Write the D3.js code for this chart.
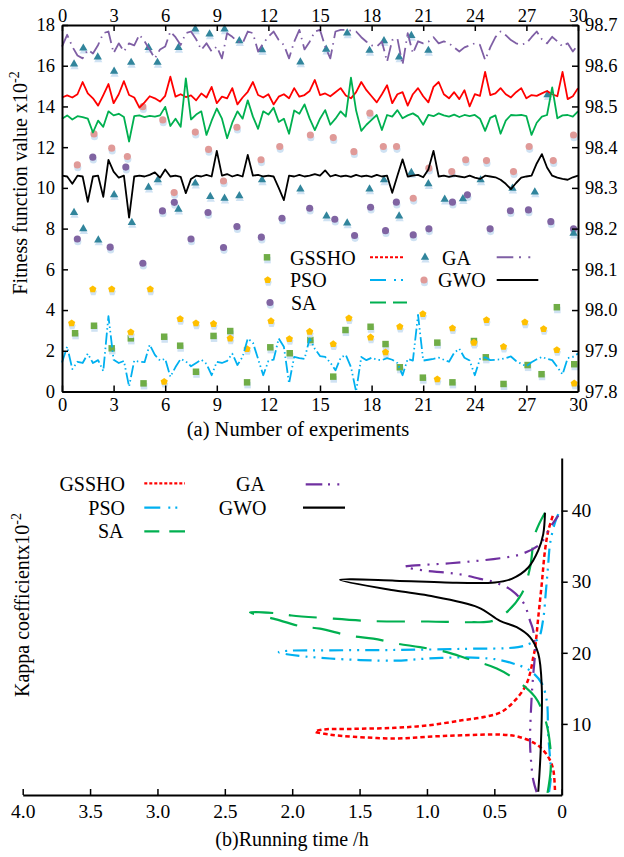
<!DOCTYPE html>
<html>
<head>
<meta charset="utf-8">
<script src="https://cdn.jsdelivr.net/npm/d3@7"></script>
<style>
  body { margin: 0; background: #fff; }
  svg { display: block; }
</style>
</head>
<body>
<svg id="chart" width="624" height="857"></svg>
<script>
// ---------- (a) ticks ----------
const expTicks = [0, 3, 6, 9, 12, 15, 18, 21, 24, 27, 30]
const fitTicks = [0, 2, 4, 6, 8, 10, 12, 14, 16, 18]
const kapTicksA = [97.8, 97.9, 98.0, 98.1, 98.2, 98.3, 98.4, 98.5, 98.6, 98.7]

// ---------- (a) fitness markers: [experiment, value x10^-2] ----------
const gsshoPts = [[0.76,2.86],[1.86,3.23],[2.89,2.12],[4.0,2.61],[4.74,0.40],[5.94,2.69],[6.87,2.25],[7.79,0.97],[8.81,2.73],[9.78,2.97],[10.76,0.45],[12.11,2.17],[13.24,1.88],[14.44,2.53],[15.77,0.73],[16.48,3.02],[17.94,3.18],[18.81,2.33],[19.64,1.19],[20.98,0.68],[21.82,2.40],[22.70,0.45],[23.95,2.48],[24.64,1.68],[25.67,0.37],[27.07,1.30],[27.88,0.85],[28.77,4.14],[29.78,1.34]]
const psoPts = [[0.56,3.35],[1.79,5.02],[2.89,5.02],[4.0,2.91],[5.13,5.02],[5.94,0.48],[6.87,3.56],[7.79,3.35],[8.81,3.32],[9.78,2.61],[10.76,2.09],[12.15,3.46],[13.22,2.58],[14.40,2.94],[15.77,2.33],[16.68,3.60],[17.94,2.66],[18.81,1.93],[19.64,3.18],[20.98,3.81],[21.82,0.60],[22.70,3.11],[23.95,2.40],[24.68,3.51],[25.67,2.20],[26.91,3.40],[28.0,3.07],[28.77,2.04],[29.78,0.40]]
const saPts = [[0.89,7.49],[1.79,11.51],[2.80,7.09],[3.71,11.02],[4.70,6.30],[5.84,8.87],[6.53,9.29],[7.50,7.49],[8.49,8.79],[9.39,7.07],[10.17,8.10],[11.59,7.58],[12.79,8.51],[14.40,9.00],[15.86,8.46],[17.01,7.66],[17.94,9.05],[18.81,7.90],[19.44,9.30],[20.42,7.69],[21.33,7.99],[22.70,9.30],[23.57,9.66],[24.89,7.99],[26.07,8.88],[27.12,8.92],[28.42,8.34],[29.74,7.99]]
const gaPts = [[0.70,16.08],[1.24,16.86],[2.08,16.42],[3.03,15.72],[4.02,16.16],[5.03,16.89],[5.55,16.16],[6.77,16.89],[7.75,17.80],[8.58,17.55],[9.45,17.80],[10.31,17.22],[11.63,16.78],[13.86,16.18],[15.36,16.81],[16.58,17.60],[17.88,16.75],[18.72,17.22],[19.60,16.42],[20.31,17.48],[21.30,16.75],
  [0.70,8.79],[1.24,7.99],[2.11,7.44],[3.03,9.66],[4.06,8.30],[5.03,10.03],[5.57,10.39],[6.77,8.95],[7.75,10.23],[8.62,9.57],[9.45,9.49],[10.31,9.61],[11.63,10.39],[13.86,9.94],[15.38,8.62],[16.58,8.27],[17.88,9.94],[18.72,10.39],[19.60,8.62],[20.31,10.75],[21.30,10.20],[22.25,9.44],[23.31,9.46],[24.34,10.39],[26.19,9.98],[27.49,9.79],[28.23,14.57],[29.74,7.77]]
const gwoPts = [[0.89,11.13],[1.86,12.65],[2.89,11.95],[3.80,11.54],[4.70,13.99],[5.86,13.34],[6.52,9.77],[7.75,12.74],[8.52,11.89],[9.39,10.34],[10.17,12.98],[11.57,11.38],[12.66,12.03],[14.44,12.60],[15.77,12.47],[16.97,11.78],[17.90,13.67],[18.68,12.03],[19.45,12.03],[20.42,9.49],[21.33,10.97],[22.66,10.80],[23.47,11.38],[24.68,11.34],[26.25,10.80],[27.16,12.03],[28.56,11.34],[29.74,12.60]]

// ---------- (a) kappa lines (right axis), one reading every 0.3 experiments ----------
const lineStep = 0.3
const gsshoLine = [98.522,98.527,98.522,98.530,98.560,98.532,98.520,98.502,98.528,98.555,98.508,98.530,98.562,98.528,98.522,98.497,98.510,98.525,98.520,98.512,98.526,98.573,98.524,98.530,98.523,98.527,98.515,98.532,98.522,98.548,98.508,98.524,98.520,98.545,98.505,98.522,98.536,98.560,98.528,98.522,98.530,98.505,98.524,98.530,98.520,98.545,98.524,98.528,98.538,98.565,98.528,98.532,98.525,98.535,98.545,98.527,98.520,98.535,98.560,98.540,98.525,98.510,98.530,98.552,98.508,98.530,98.535,98.502,98.530,98.545,98.525,98.510,98.548,98.560,98.530,98.520,98.535,98.518,98.540,98.500,98.530,98.526,98.585,98.528,98.532,98.545,98.530,98.522,98.535,98.545,98.520,98.528,98.526,98.532,98.538,98.530,98.525,98.585,98.518,98.525,98.545]
const psoLine = [97.871,97.910,97.855,97.873,97.870,97.893,97.870,97.877,97.850,97.985,97.878,97.870,97.875,97.812,97.876,97.873,97.872,97.915,97.890,97.876,97.880,97.836,97.860,97.880,97.874,97.862,97.870,97.878,97.868,97.840,97.873,97.870,97.875,97.893,97.865,97.885,97.930,97.920,97.880,97.840,97.875,97.878,97.930,97.910,97.820,97.885,97.882,97.880,97.930,97.905,97.887,97.885,97.871,97.852,97.883,97.890,97.860,97.800,97.885,97.877,97.883,97.878,97.877,97.882,97.878,97.870,97.840,97.880,97.876,97.988,97.876,97.878,97.880,97.883,97.878,97.873,97.895,97.905,97.883,97.876,97.840,97.880,97.884,97.877,97.878,97.879,97.882,97.886,97.875,97.868,97.862,97.872,97.879,97.885,97.880,97.877,97.860,97.842,97.882,97.885,97.893]
const saLine = [98.470,98.478,98.468,98.476,98.474,98.470,98.436,98.465,98.450,98.488,98.478,98.482,98.474,98.414,98.476,98.478,98.474,98.477,98.475,98.478,98.499,98.452,98.470,98.450,98.569,98.468,98.480,98.488,98.430,98.465,98.495,98.470,98.422,98.460,98.488,98.470,98.515,98.475,98.445,98.488,98.480,98.497,98.462,98.470,98.433,98.490,98.482,98.505,98.470,98.442,98.470,98.491,98.455,98.470,98.488,98.475,98.571,98.490,98.440,98.455,98.467,98.479,98.442,98.479,98.475,98.491,98.471,98.478,98.483,98.475,98.455,98.479,98.476,98.483,98.478,98.475,98.480,98.474,98.479,98.476,98.479,98.470,98.440,98.472,98.478,98.433,98.465,98.479,98.478,98.479,98.476,98.430,98.460,98.475,98.479,98.547,98.471,98.478,98.479,98.475,98.488]
const gaLine = [98.647,98.676,98.647,98.625,98.618,98.639,98.630,98.651,98.680,98.684,98.631,98.655,98.635,98.655,98.650,98.676,98.660,98.639,98.618,98.640,98.647,98.684,98.670,98.651,98.680,98.684,98.665,98.639,98.655,98.635,98.647,98.618,98.680,98.671,98.660,98.655,98.684,98.680,98.635,98.655,98.671,98.684,98.663,98.651,98.618,98.659,98.688,98.640,98.659,98.684,98.688,98.647,98.618,98.684,98.688,98.688,98.686,98.684,98.670,98.659,98.650,98.647,98.659,98.610,98.663,98.667,98.602,98.680,98.630,98.660,98.655,98.659,98.670,98.655,98.660,98.655,98.645,98.635,98.645,98.650,98.655,98.651,98.614,98.645,98.670,98.684,98.675,98.663,98.655,98.652,98.655,98.670,98.684,98.665,98.655,98.671,98.660,98.647,98.655,98.635,98.651]
const gwoLine = [98.330,98.328,98.310,98.330,98.328,98.266,98.328,98.330,98.278,98.369,98.340,98.325,98.330,98.227,98.328,98.330,98.328,98.332,98.338,98.325,98.345,98.328,98.330,98.327,98.287,98.322,98.330,98.328,98.332,98.328,98.391,98.330,98.334,98.328,98.332,98.328,98.381,98.330,98.332,98.328,98.330,98.328,98.300,98.270,98.330,98.328,98.332,98.328,98.330,98.334,98.330,98.343,98.328,98.332,98.328,98.330,98.327,98.332,98.328,98.330,98.327,98.332,98.328,98.330,98.288,98.330,98.370,98.328,98.330,98.332,98.326,98.345,98.391,98.328,98.330,98.327,98.330,98.328,98.326,98.330,98.325,98.322,98.330,98.328,98.326,98.320,98.310,98.297,98.312,98.325,98.328,98.330,98.360,98.383,98.350,98.330,98.325,98.322,98.320,98.326,98.330]

// ---------- (b) ticks ----------
const timeTicks = [4.0, 3.5, 3.0, 2.5, 2.0, 1.5, 1.0, 0.5, 0]
const kapTicksB = [10, 20, 30, 40]

// ---------- (b) curves: [running time h, kappa x10^-2] ----------
const gsshoCurve = [[0.05,0.7],[0.062,3.5],[0.087,4.9],[0.137,6.3],[0.198,7.25],[0.322,8.2],[0.445,8.5],[0.742,8.4],[0.99,8.2],[1.237,7.95],[1.547,8.2],[1.72,8.5],[1.83,8.9],[1.77,9.2],[1.547,9.3],[1.237,9.45],[0.99,9.8],[0.742,10.5],[0.569,11.0],[0.445,11.7],[0.347,13.3],[0.272,15.2],[0.235,17.1],[0.211,19.4],[0.198,20.6],[0.174,25.0],[0.148,29.7],[0.124,34.4],[0.099,37.2],[0.062,39.5]]
const psoCurve = [[0.094,0.4],[0.079,2.8],[0.087,5.3],[0.102,9.1],[0.104,11.7],[0.111,13.3],[0.148,15.7],[0.235,17.5],[0.361,18.5],[0.495,19.1],[0.742,19.35],[0.99,19.2],[1.237,18.9],[1.72,19.2],[2.04,19.8],[2.10,20.1],[2.02,20.3],[1.72,20.35],[1.237,20.4],[0.742,20.55],[0.324,20.8],[0.235,21.3],[0.174,22.0],[0.139,24.5],[0.118,28.5],[0.102,32.0],[0.085,35.5],[0.05,38.3],[0.025,39.5]]
const saCurve = [[0.105,0.3],[0.082,3.5],[0.085,6.8],[0.12,10.5],[0.198,13.8],[0.371,16.6],[0.482,17.8],[0.705,19.2],[0.853,20.1],[1.052,20.8],[1.224,21.3],[1.398,22.0],[1.571,22.4],[1.794,23.4],[1.93,23.7],[2.14,24.8],[2.313,25.7],[2.14,25.6],[2.004,25.25],[1.769,24.9],[1.398,24.45],[0.99,24.4],[0.668,24.3],[0.519,24.45],[0.421,25.5],[0.297,28.3],[0.235,32.0],[0.198,36.7],[0.124,39.7]]
const gaCurve = [[0.186,0.4],[0.211,2.1],[0.228,4.9],[0.235,7.7],[0.223,13.8],[0.211,17.0],[0.198,20.3],[0.211,23.1],[0.235,24.5],[0.28,26.9],[0.369,28.75],[0.495,29.9],[0.606,30.4],[0.742,31.0],[0.866,31.3],[1.014,31.55],[1.163,32.1],[1.113,32.25],[0.829,32.6],[0.458,33.3],[0.297,33.9],[0.161,35.3],[0.099,37.2],[0.062,38.3],[0.025,39.3]]
const gwoCurve = [[0.174,0.46],[0.156,6.3],[0.148,15.2],[0.174,19.9],[0.235,22.2],[0.334,23.6],[0.458,24.5],[0.621,26.4],[0.992,28.05],[1.237,28.75],[1.645,30.25],[1.237,30.15],[0.866,29.9],[0.495,29.9],[0.371,30.4],[0.248,32.0],[0.174,34.4],[0.137,36.7],[0.124,39.7]]

const svg = d3.select("#chart")

// custom pentagon marker for PSO
const symbolPentagon = {
  draw(ctx, size) {
    const r = Math.sqrt(size / 2.378)
    for (let i = 0; i < 5; i++) {
      const a = -Math.PI / 2 + i * 2 * Math.PI / 5
      if (i === 0) ctx.moveTo(r * Math.cos(a), r * Math.sin(a))
      else ctx.lineTo(r * Math.cos(a), r * Math.sin(a))
    }
    ctx.closePath()
  }
}

// series styles
const series = [
  { name: "GSSHO", pts: gsshoPts, line: gsshoLine, curve: gsshoCurve, sym: d3.symbolSquare, size: 42, mColor: "#70ad47",
    color: "#ff0000", topDash: null, dash: "4.5,3", width: 2.5, legDash: "3,2" },
  { name: "PSO", pts: psoPts, line: psoLine, curve: psoCurve, sym: symbolPentagon, size: 34, mColor: "#ffc000",
    color: "#00b0f0", topDash: "12,3,1.5,3,1.5,3", dash: "14,6,2,6,2,6", width: 2.2, legDash: "16,8,2,5,2,100" },
  { name: "SA", pts: saPts, line: saLine, curve: saCurve, sym: d3.symbolCircle, size: 40, mColor: "#8064a2",
    color: "#00b050", topDash: null, dash: "28,16", width: 2.2, legDash: "16,7,15" },
  { name: "GA", pts: gaPts, line: gaLine, curve: gaCurve, sym: d3.symbolTriangle, size: 30, mColor: "#31859c",
    color: "#7f5fa5", bColor: "#7030a0", topDash: "16,5,1.5,5", dash: "15,7,2,7,2,7", width: 2.2, legDash: "16.6,5.7,2,7.3,2,100" },
  { name: "GWO", pts: gwoPts, line: gwoLine, curve: gwoCurve, sym: d3.symbolCircle, size: 40, mColor: "#e09a98",
    color: "#000000", topDash: null, dash: null, width: 2, legDash: null }
]

// ================= panel (a) =================
const xA = d3.scaleLinear().domain([0, 30]).range([62, 578])
const yL = d3.scaleLinear().domain([0, 18]).range([391.5, 25])
const yR = d3.scaleLinear().domain([97.8, 98.7]).range([391.5, 25])

const gA = svg.append("g")

function styleAxis(g, fs) {
  g.attr("font-size", fs)
  g.select(".domain").attr("stroke-width", 2)
  g.selectAll(".tick line").attr("stroke-width", 1.5)
}

// markers with pale shadows
series.forEach(s => {
  const sym = d3.symbol().type(s.sym).size(s.size)
  gA.append("g").selectAll("path").data(s.pts).enter().append("path")
    .attr("d", sym)
    .attr("fill", "#cfe2f3")
    .attr("transform", d => `translate(${xA(d[0]) + 0.5},${yL(d[1]) + 2.8})`)
  gA.append("g").selectAll("path").data(s.pts).enter().append("path")
    .attr("d", sym)
    .attr("fill", s.mColor)
    .attr("transform", d => `translate(${xA(d[0])},${yL(d[1])})`)
})

// kappa lines
const lineA = d3.line().x((d, i) => xA(i * lineStep)).y(d => yR(d))
series.forEach(s => {
  gA.append("path")
    .datum(s.line)
    .attr("d", lineA)
    .attr("fill", "none")
    .attr("stroke", s.color)
    .attr("stroke-width", 1.8)
    .attr("stroke-linejoin", "round")
    .attr("stroke-dasharray", s.topDash)
})

// axes (ticks point inward)
gA.append("g").attr("transform", "translate(62,0)")
  .call(d3.axisLeft(yL).tickValues(fitTicks).tickSize(-6).tickSizeOuter(0).tickPadding(7))
  .call(g => styleAxis(g, 18.5))
gA.append("g").attr("transform", "translate(578,0)")
  .call(d3.axisRight(yR).tickValues(kapTicksA).tickSize(-6).tickSizeOuter(0).tickPadding(7).tickFormat(d3.format(".1f")))
  .call(g => styleAxis(g, 18.5))
gA.append("g").attr("transform", "translate(0,25)")
  .call(d3.axisTop(xA).tickValues(expTicks).tickSize(-6).tickSizeOuter(0).tickPadding(3.5))
  .call(g => styleAxis(g, 18.5))
gA.append("g").attr("transform", "translate(0,391.5)")
  .call(d3.axisBottom(xA).tickValues(expTicks).tickSize(-6).tickSizeOuter(0).tickPadding(6))
  .call(g => styleAxis(g, 18.5))

// axis titles
const titleA = gA.append("text")
  .attr("transform", "translate(27,183) rotate(-90)")
  .attr("text-anchor", "middle")
  .attr("font-size", 20)
titleA.append("tspan").text("Fitness function value x10")
titleA.append("tspan").attr("font-size", 14).attr("dy", -8).text("-2")

gA.append("text")
  .attr("x", 298).attr("y", 436)
  .attr("text-anchor", "middle")
  .attr("font-size", 20.5)
  .text("(a) Number of experiments")

// legend (a)
const legA = gA.append("g").attr("font-size", 20)
const legAItems = [
  { s: series[0], mx: 267, tx: 290, lx: [370, 405], y: 257.3, ty: 265 },
  { s: series[1], mx: 267.7, tx: 290, lx: [370, 405], y: 280, ty: 287 },
  { s: series[2], mx: 270, tx: 291, lx: [370, 407], y: 302.5, ty: 310 },
  { s: series[3], mx: 425, tx: 442, lx: [496.7, 531.7], y: 257.3, ty: 265 },
  { s: series[4], mx: 424, tx: 438, lx: [496.7, 538.3], y: 280, ty: 287 }
]
legAItems.forEach(d => {
  const sym = d3.symbol().type(d.s.sym).size(d.s.size)
  legA.append("path").attr("d", sym).attr("fill", "#cfe2f3")
    .attr("transform", `translate(${d.mx + 0.5},${d.y + 2.8})`)
  legA.append("path").attr("d", sym).attr("fill", d.s.mColor)
    .attr("transform", `translate(${d.mx},${d.y})`)
  legA.append("text").attr("x", d.tx).attr("y", d.ty).text(d.s.name)
  legA.append("line")
    .attr("x1", d.lx[0]).attr("x2", d.lx[1]).attr("y1", d.y).attr("y2", d.y)
    .attr("stroke", d.s.color).attr("stroke-width", 2)
    .attr("stroke-dasharray", d.s.legDash)
})

// ================= panel (b) =================
const xB = d3.scaleLinear().domain([0, 4]).range([561.7, 22.7])
const yB = d3.scaleLinear().domain([0, 47.4]).range([795, 458])

const gB = svg.append("g")

const curveB = d3.line()
  .x(d => xB(d[0]))
  .y(d => yB(d[1]))
  .curve(d3.curveCatmullRom.alpha(0.5))

series.forEach(s => {
  gB.append("path")
    .datum(s.curve)
    .attr("d", curveB)
    .attr("fill", "none")
    .attr("stroke", s.bColor || s.color)
    .attr("stroke-width", s.width)
    .attr("stroke-dasharray", s.dash)
})

gB.append("g").attr("transform", "translate(0,795)")
  .call(d3.axisBottom(xB).tickValues(timeTicks).tickSize(-6).tickSizeOuter(0).tickPadding(9)
    .tickFormat(d => d === 0 ? "0" : d3.format(".1f")(d)))
  .call(g => styleAxis(g, 19.5))
gB.append("g").attr("transform", "translate(561.7,0)")
  .call(d3.axisRight(yB).tickValues(kapTicksB).tickSize(6).tickSizeOuter(0).tickPadding(4))
  .call(g => styleAxis(g, 19.5))

const titleB = gB.append("text")
  .attr("transform", "translate(29,605) rotate(-90)")
  .attr("text-anchor", "middle")
  .attr("font-size", 20)
titleB.append("tspan").text("Kappa coefficientx10")
titleB.append("tspan").attr("font-size", 14).attr("dy", -8).text("-2")

gB.append("text")
  .attr("x", 292).attr("y", 846)
  .attr("text-anchor", "middle")
  .attr("font-size", 20)
  .text("(b)Running time /h")

// legend (b)
const legB = gB.append("g").attr("font-size", 20)
const legBItems = [
  { s: series[0], tx: 125, lx: [144.3, 185], y: 483.3, ty: 490.5 },
  { s: series[1], tx: 125, lx: [144.3, 185], y: 507.7, ty: 515 },
  { s: series[2], tx: 123.5, lx: [144.3, 185], y: 531.3, ty: 538.3 },
  { s: series[3], tx: 265, lx: [305.7, 343], y: 484.3, ty: 490.5 },
  { s: series[4], tx: 266.5, lx: [303, 345], y: 507.7, ty: 515 }
]
legBItems.forEach(d => {
  legB.append("text").attr("x", d.tx).attr("y", d.ty).attr("text-anchor", "end").text(d.s.name)
  legB.append("line")
    .attr("x1", d.lx[0]).attr("x2", d.lx[1]).attr("y1", d.y).attr("y2", d.y)
    .attr("stroke", d.s.bColor || d.s.color).attr("stroke-width", 2.2)
    .attr("stroke-dasharray", d.s.name === "SA" ? "15,10,16" : d.s.legDash)
})

// every text in Times-like serif
svg.selectAll("text").style("font-family", "Liberation Serif")
</script>
</body>
</html>
